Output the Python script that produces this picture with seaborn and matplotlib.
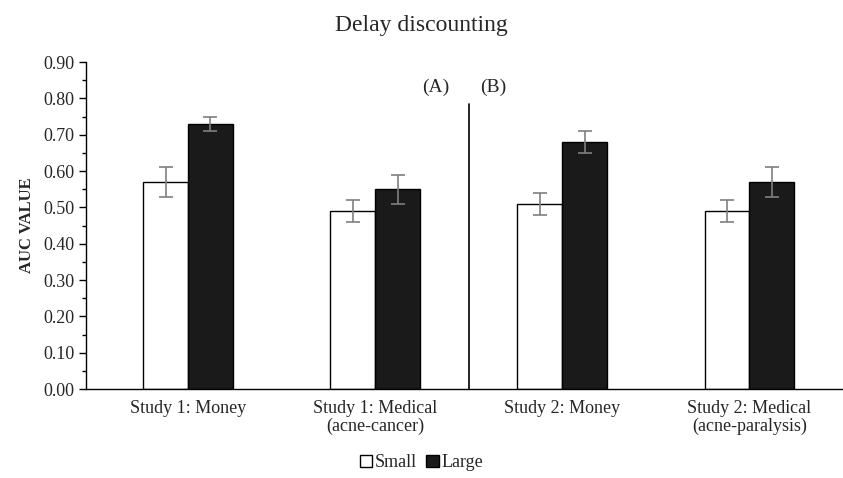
import numpy as np
import pandas as pd
import matplotlib
matplotlib.use("Agg")
import matplotlib.pyplot as plt
from matplotlib.patches import Patch
from matplotlib.ticker import MultipleLocator
import seaborn as sns

# 数据
categories = ["Study 1: Money", "Study 1: Medical\n(acne-cancer)",
              "Study 2: Money", "Study 2: Medical\n(acne-paralysis)"]
small_vals = [0.57, 0.49, 0.51, 0.49]
large_vals = [0.73, 0.55, 0.68, 0.57]
small_err = [0.04, 0.03, 0.03, 0.03]
large_err = [0.02, 0.04, 0.03, 0.04]
groups = ["Small", "Large"]

sns.set_theme(style="white")
plt.rcParams['font.family'] = ['Liberation Serif', 'DejaVu Serif']

df = pd.DataFrame({
    "cat": categories * 2,
    "size": ["Small"] * 4 + ["Large"] * 4,
    "auc": small_vals + large_vals,
})

fig = plt.figure(figsize=(8.43, 4.78), dpi=100)
ax = fig.add_axes([0.102, 0.186, 0.898, 0.684])

sns.barplot(data=df, x="cat", y="auc", hue="size", hue_order=groups,
            palette={"Small": "white", "Large": "#1a1a1a"},
            edgecolor="black", linewidth=1.0, width=0.48, gap=0,
            errorbar=None, legend=False, ax=ax)

# 误差线
for cont, errs in zip(ax.containers, [small_err, large_err]):
    xs = [p.get_x() + p.get_width() / 2 for p in cont.patches]
    ys = [p.get_height() for p in cont.patches]
    ax.errorbar(xs, ys, yerr=errs, fmt="none", ecolor="#7f7f7f",
                elinewidth=1.2, capsize=5, capthick=1.2)

ax.set_ylim(0, 0.9)
ax.set_xlim(-0.545, 3.5)
ax.yaxis.set_major_locator(MultipleLocator(0.1))
ax.yaxis.set_minor_locator(MultipleLocator(0.05))
ax.yaxis.set_major_formatter(matplotlib.ticker.FormatStrFormatter("%.2f"))
ax.tick_params(axis="y", which="major", direction="out", length=5, width=1,
               left=True, labelsize=13, color="black")
ax.tick_params(axis="y", which="minor", direction="out", length=3, width=1,
               left=True, color="black")
ax.tick_params(axis="x", bottom=False, labelsize=13, pad=2)
for lbl in ax.get_xticklabels():
    lbl.set_linespacing(1.05)

for side in ["top", "right"]:
    ax.spines[side].set_visible(False)
for side in ["left", "bottom"]:
    ax.spines[side].set_color("black")
    ax.spines[side].set_linewidth(1)

ax.set_xlabel("")
ax.set_ylabel("AUC VALUE", fontsize=12, fontweight="bold", labelpad=6)

# 分隔线和标注
ax.plot([1.5, 1.5], [0, 0.785], color="black", lw=1.2)
ax.text(1.325, 0.83, "(A)", fontsize=14, ha="center", va="center")
ax.text(1.63, 0.83, "(B)", fontsize=14, ha="center", va="center")

fig.suptitle("Delay discounting", fontsize=17, y=0.968)

handles = [Patch(facecolor="white", edgecolor="black", label="Small"),
           Patch(facecolor="#1a1a1a", edgecolor="black", label="Large")]
fig.legend(handles=handles, loc="center", bbox_to_anchor=(0.5, 0.032),
           ncol=2, frameon=False, fontsize=13, handlelength=0.7,
           handleheight=0.7, handletextpad=0.15, columnspacing=0.5)

fig.savefig("out.png", dpi=100)
